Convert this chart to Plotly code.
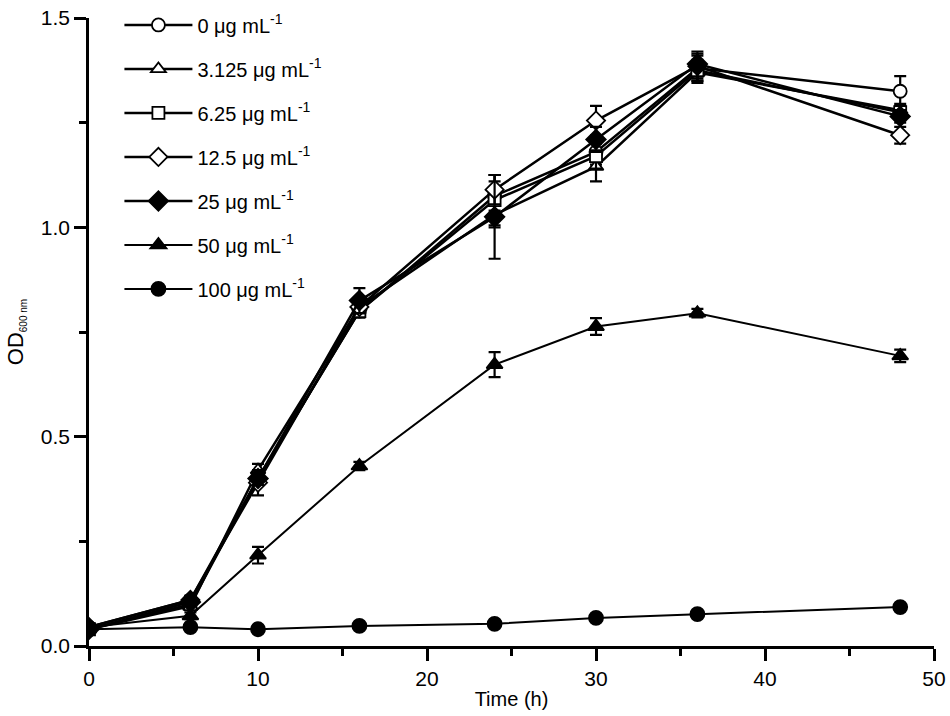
import plotly.graph_objects as go

# sampling times (h)
time_h = [0, 6, 10, 16, 24, 30, 36, 48]

# OD600 readings per concentration
od_0 = [0.045, 0.110, 0.400, 0.800, 1.075, 1.180, 1.380, 1.325]
od_3125 = [0.040, 0.095, 0.420, 0.810, 1.030, 1.145, 1.370, 1.280]
od_625 = [0.040, 0.100, 0.400, 0.800, 1.065, 1.170, 1.375, 1.275]
od_125 = [0.045, 0.110, 0.390, 0.810, 1.090, 1.255, 1.385, 1.220]
od_25 = [0.040, 0.105, 0.400, 0.825, 1.025, 1.210, 1.390, 1.265]
od_50 = [0.045, 0.072, 0.217, 0.430, 0.672, 0.763, 0.795, 0.693]
od_100 = [0.040, 0.045, 0.040, 0.048, 0.053, 0.067, 0.076, 0.093]

# standard deviations
err_0 = [0.005, 0.010, 0.015, 0.015, 0.035, 0.030, 0.030, 0.036]
err_3125 = [0.005, 0.010, 0.015, 0.015, 0.030, 0.035, 0.025, 0.015]
err_625 = [0.005, 0.010, 0.015, 0.015, 0.060, 0.030, 0.025, 0.015]
err_125 = [0.005, 0.010, 0.030, 0.015, 0.035, 0.035, 0.030, 0.020]
err_25 = [0.005, 0.010, 0.015, 0.030, 0.100, 0.030, 0.030, 0.015]
err_50 = [0.005, 0.008, 0.020, 0.010, 0.030, 0.020, 0.010, 0.015]
err_100 = [0.004, 0.004, 0.004, 0.004, 0.004, 0.005, 0.005, 0.006]

labels = ["0", "3.125", "6.25", "12.5", "25", "50", "100"]
series = [od_0, od_3125, od_625, od_125, od_25, od_50, od_100]
errors = [err_0, err_3125, err_625, err_125, err_25, err_50, err_100]
symbols = ["circle", "triangle-up", "square", "diamond", "diamond", "triangle-up", "circle"]
fills = ["white", "white", "white", "white", "black", "black", "black"]
sizes = [13, 13, 12, 14, 15, 14, 14]
widths = [2.5, 2.5, 2.5, 2.5, 2.5, 2, 2]

fig = go.Figure()
for i in range(len(labels)):
    fig.add_trace(go.Scatter(
        x=time_h,
        y=series[i],
        mode="lines+markers",
        name=labels[i] + " μg mL<sup>-1</sup>",
        legendgroup=labels[i],
        line=dict(color="black", width=widths[i]),
        marker=dict(symbol=symbols[i], size=sizes[i], color=fills[i],
                    line=dict(color="black", width=1.8)),
        error_y=dict(type="data", array=errors[i], color="black",
                     thickness=2.2, width=6),
    ))

fig.update_layout(
    width=950,
    height=716,
    plot_bgcolor="white",
    paper_bgcolor="white",
    margin=dict(l=89, r=16, t=18, b=70, autoexpand=False),
    font=dict(family="Liberation Sans, Arial, sans-serif", size=20, color="black"),
    legend=dict(
        x=0.036, y=1.02, xanchor="left", yanchor="top",
        traceorder="grouped", tracegroupgap=15,
        itemwidth=68, font=dict(size=20),
        bgcolor="rgba(0,0,0,0)",
    ),
)

fig.update_xaxes(
    range=[0, 50], dtick=10, showgrid=False, zeroline=False,
    showline=True, linecolor="black", linewidth=2.5,
    ticks="outside", ticklen=12, tickwidth=2.5, tickcolor="black",
    tickfont=dict(size=21), ticklabeloverflow="allow",
    minor=dict(dtick=5, ticks="outside", ticklen=7, tickwidth=2.5, tickcolor="black"),
    title=dict(text="Time (h)", font=dict(size=20), standoff=4),
)
fig.update_yaxes(
    range=[0, 1.5], dtick=0.5, tickformat=".1f", showgrid=False, zeroline=False,
    showline=True, linecolor="black", linewidth=2.5,
    ticks="outside", ticklen=12, tickwidth=2.5, tickcolor="black",
    tickfont=dict(size=21), ticklabeloverflow="allow",
    minor=dict(dtick=0.25, ticks="outside", ticklen=7, tickwidth=2.5, tickcolor="black"),
    title=dict(text="OD<sub><span style='font-size:10px'>600 nm</span></sub>",
               font=dict(size=22), standoff=12),
)

# drop the default 8px page margin so the figure sits at the window's corner
fig.write_html("out.html", config={"displayModeBar": False},
               post_script="document.body.style.margin='0px';")
